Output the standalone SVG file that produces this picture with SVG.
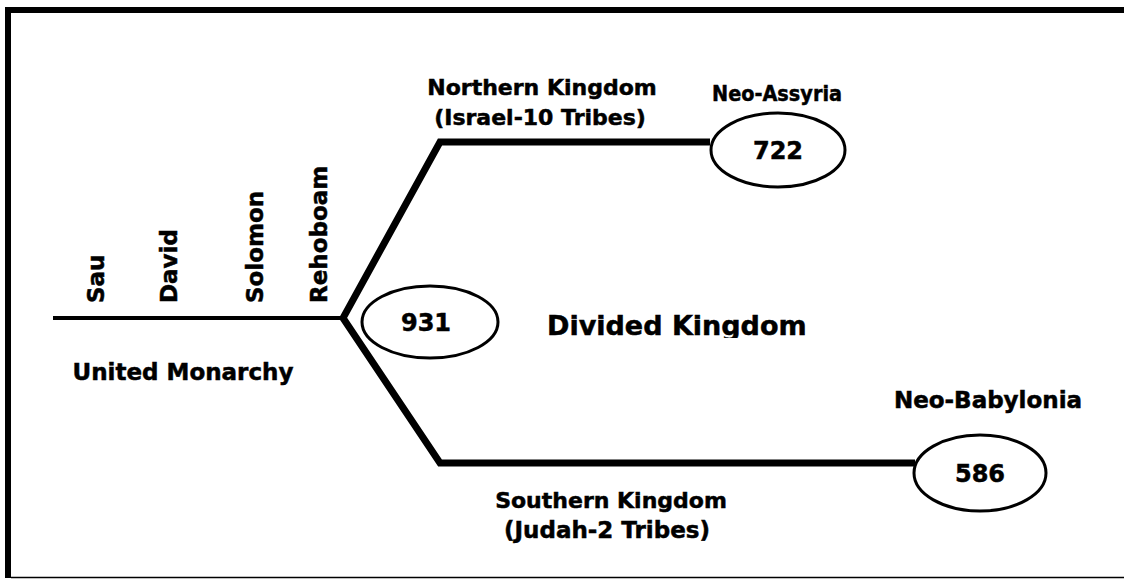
<svg xmlns="http://www.w3.org/2000/svg" width="1124" height="580" viewBox="0 0 1124 580">
<defs>
<style>
.t{font-family:"DejaVu Sans","Liberation Sans",sans-serif;font-weight:bold;fill:#000;stroke:#000;stroke-width:0.5}
.c{text-anchor:middle}
.v{font-size:23px}
.lab{font-size:22px}
.e{fill:#fff;stroke:#000;stroke-width:3}
.num{font-size:24px}
.br{fill:none;stroke:#000;stroke-width:7;stroke-linejoin:miter}
</style>
<clipPath id="dkclip"><rect x="0" y="0" width="1124" height="338"/></clipPath>
</defs>
<rect width="1124" height="580" fill="#fff"/>
<g id="frame">
<rect x="5" y="7" width="1119" height="6" fill="#000"/>
<rect x="5" y="7" width="6" height="571" fill="#000"/>
<line x1="11" y1="577.5" x2="1124" y2="577.5" stroke="#000" stroke-width="1.5"/>
</g>
<g id="connectors">
<line x1="53" y1="318" x2="345" y2="318" stroke="#000" stroke-width="4"/>
<polyline class="br" points="710,142 440,142 343,318 440,463 915,463"/>
</g>
<g id="kings">
<text class="t v" transform="translate(104,303) rotate(-90)">Sau</text>
<text class="t v" transform="translate(177,303) rotate(-90)">David</text>
<text class="t v" transform="translate(263,303) rotate(-90)">Solomon</text>
<text class="t v" transform="translate(327,303) rotate(-90)">Rehoboam</text>
</g>
<g id="united">
<text class="t c" x="183" y="380" font-size="23">United Monarchy</text>
</g>
<g id="node931">
<ellipse class="e" cx="430" cy="322" rx="68" ry="36"/>
<text class="t c num" x="426" y="331">931</text>
</g>
<g id="divided">
<text class="t" x="547" y="335" font-size="27" clip-path="url(#dkclip)">Divided Kingdom</text>
</g>
<g id="northern">
<text class="t c lab" x="542" y="95">Northern Kingdom</text>
<text class="t c lab" x="540" y="125">(Israel-10 Tribes)</text>
</g>
<g id="node722">
<text class="t c" x="777" y="101" font-size="22" textLength="130" lengthAdjust="spacingAndGlyphs">Neo-Assyria</text>
<ellipse class="e" cx="778" cy="150" rx="67" ry="37"/>
<text class="t c num" x="778" y="159">722</text>
</g>
<g id="southern">
<text class="t c lab" x="611" y="508">Southern Kingdom</text>
<text class="t c" x="607" y="538" font-size="23">(Judah-2 Tribes)</text>
</g>
<g id="node586">
<text class="t c" x="988" y="408" font-size="23">Neo-Babylonia</text>
<ellipse class="e" cx="980" cy="473" rx="66" ry="38"/>
<text class="t c num" x="980" y="482">586</text>
</g>
</svg>
